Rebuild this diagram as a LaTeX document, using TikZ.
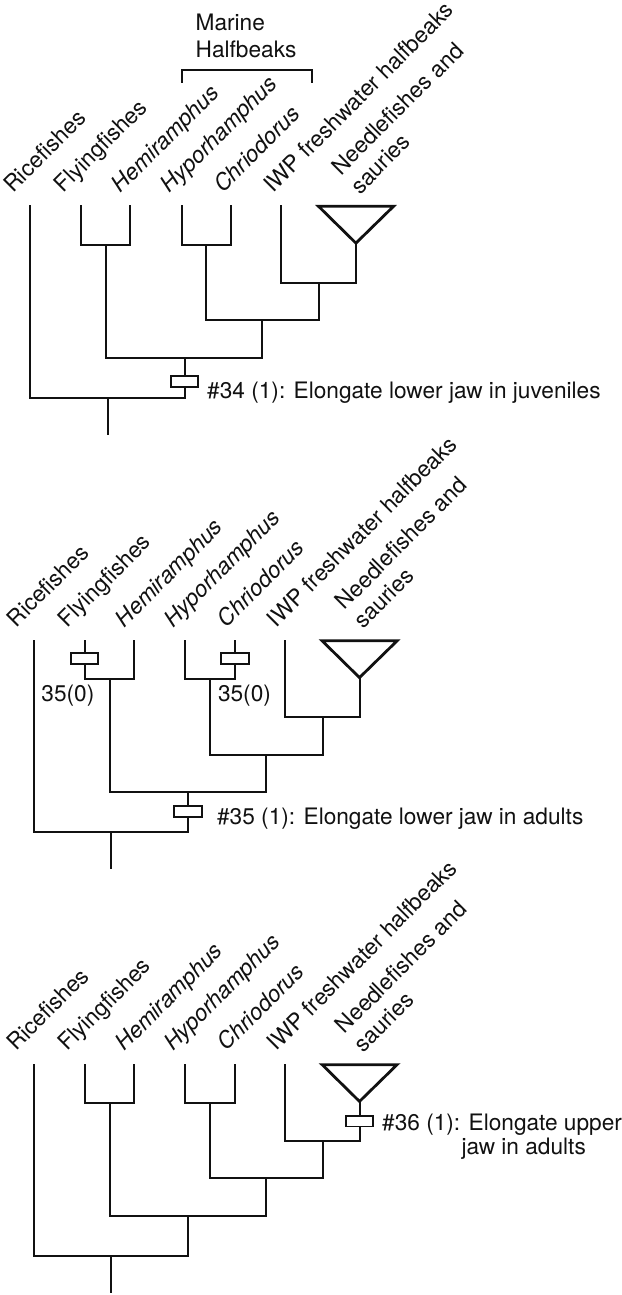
\documentclass[tikz,border=0pt]{standalone}
\usepackage{fontspec}
\setmainfont{TeX Gyre Heros}
\usepackage{xcolor}
\usepackage{tikz}
\usetikzlibrary{positioning,calc}
\definecolor{ink}{HTML}{111111}

% shared tree of one panel, tip tops at local y=0
\newcommand\fishtree{%
  \node[taxon] (tRice)  at (16.5,-12.5) {Ricefishes};
  \node[taxon] (tFly)   at (67.5,-12.5) {Flyingfishes};
  \node[taxon] (tHemi)  at (125,-12.5)  {\itshape Hemiramphus};
  \node[taxon] (tHypo)  at (174,-12.5)  {\itshape Hyporhamphus};
  \node[taxon] (tChrio) at (228,-12.5)  {\itshape Chriodorus};
  \node[taxon] (tIwp)   at (278,-12.5)  {IWP freshwater halfbeaks};
  \node[taxon, anchor=south west, align=left] (tNeedle) at (366,-10.5)
    {Needlefishes and\\sauries};
  \coordinate (rice)  at (34,0);
  \coordinate (fly)   at (85,0);
  \coordinate (hemi)  at (134.6,0);
  \coordinate (hypo)  at (186.3,0);
  \coordinate (chrio) at (236,0);
  \coordinate (iwp)   at (286.2,0);
  \coordinate (triL)  at (324,0);
  \coordinate (triR)  at (399.4,0);
  \coordinate (needle) at (361.6,37);
  \coordinate (nFH)   at (110.5,38.5);
  \coordinate (nHC)   at (211.2,38.5);
  \coordinate (nIN)   at (324.5,77);
  \coordinate (nHCIN) at (267.3,114.5);
  \coordinate (nFHr)  at (189.2,152.5);
  \coordinate (nRoot) at (112,192.5);
  \coordinate (root)  at (112,229);
  \draw[clade] (triL) -- (triR) -- (needle) -- cycle;
  \draw[branch] (fly) |- (nFH) -| (hemi);
  \draw[branch] (hypo) |- (nHC) -| (chrio);
  \draw[branch] (iwp) |- (nIN) -| (needle);
  \draw[branch] (nHC) |- (nHCIN) -| (nIN);
  \draw[branch] (nFH) |- (nFHr) -| (nHCIN);
  \draw[branch] (rice) |- (nRoot) -| (nFHr);
  \draw[branch] (nRoot) -- (root);
}

\begin{document}
\begin{tikzpicture}[x=0.5pt, y=-0.5pt,
    txt/.style={font=\fontsize{11.4}{13.5}\selectfont, text=ink, inner sep=0pt},
    taxon/.style={txt, rotate=45, anchor=base west},
    note/.style={txt, anchor=base west, align=left},
    branch/.style={draw=ink, line width=1pt, line cap=rect},
    clade/.style={draw=ink, line width=1.4pt, line join=miter},
    charbox/.style={draw=ink, fill=white, line width=1pt, minimum width=14pt,
                    minimum height=5.5pt, inner sep=0pt}]
  \fill[white] (0,0) rectangle (616,1295);

  % juvenile lower jaw
  \begin{scope}[shift={(-3.6,200)}]
    \fishtree
    \coordinate (mhL) at (186.3,-125);
    \coordinate (mhR) at (317.6,-125);
    \draw[branch] (mhL) -- ++(0,-12) -| (mhR);
    \node[txt, anchor=south west, align=left] (marine) at (200,-149) {Marine\\Halfbeaks};
    \node[charbox] (c34) at (189.2,176) {};
    \node[note] (l34) at (211.6,193) {\#34 (1): Elongate lower jaw in juveniles};
  \end{scope}

  % adult lower jaw
  \begin{scope}[shift={(0,637)}]
    \fishtree
    \node[charbox] (c35a) at ($(fly)+(0,18)$) {};
    \node[charbox] (c35b) at ($(chrio)+(0,18)$) {};
    \node[note] (r35a) at (41.3,61.3) {35(0)};
    \node[note] (r35b) at (218.9,61.3) {35(0)};
    \node[charbox] (c35) at (189.2,171.3) {};
    \node[note] (l35) at (218,184.7) {\#35 (1): Elongate lower jaw in adults};
  \end{scope}

  % adult upper jaw
  \begin{scope}[shift={(0,1063.3)}]
    \fishtree
    \node[charbox] (c36) at ($(needle)+(0,19.7)$) {};
    \node[note, font=\fontsize{11.4}{12}\selectfont] (l36) at (384,90.7)
      {\#36 (1): Elongate upper\\\hspace*{3.5em}jaw in adults};
  \end{scope}
\end{tikzpicture}
\end{document}
